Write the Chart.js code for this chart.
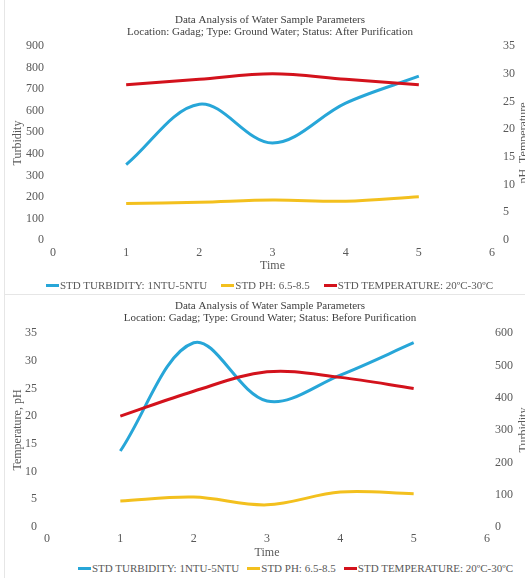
<!DOCTYPE html>
<html>
<head>
<meta charset="utf-8">
<script src="https://cdn.jsdelivr.net/npm/chart.js@4.4.1/dist/chart.umd.min.js"></script>
<style>
  html, body { margin: 0; padding: 0; background: #fff; width: 525px; height: 578px; overflow: hidden; }
  body { position: relative; font-family: "Liberation Serif", "Times New Roman", serif; }
  .frame { position: absolute; left: 4px; width: 540px; border-left: 1px solid #e6e6e6; }
  #frameTop { top: 0; height: 294px; border-bottom: 1px solid #e6e6e6; }
  #frameBottom { top: 295px; height: 300px; }
  canvas { position: absolute; left: 0; }
  #chartAfter { top: 0; }
  #chartBefore { top: 290px; }
  .legend { position: absolute; display: flex; align-items: center; font-size: 11px; line-height: 13px; color: #595959; white-space: nowrap; }
  .legend .item { display: inline-flex; align-items: center; }
  .legend .swatch { display: inline-block; width: 13px; height: 3px; margin-right: 1px; }
  #legendAfter { left: 46px; top: 279px; gap: 14px; }
  #legendBefore { left: 78px; top: 562px; gap: 8px; }
</style>
</head>
<body>
<div class="frame" id="frameTop"></div>
<div class="frame" id="frameBottom"></div>
<canvas id="chartAfter" width="540" height="273"></canvas>
<canvas id="chartBefore" width="540" height="270"></canvas>
<div class="legend" id="legendAfter"></div>
<div class="legend" id="legendBefore"></div>
<script>
// Sampling times
const timePoints = [1, 2, 3, 4, 5];
const timeTicks = [0, 1, 2, 3, 4, 5, 6];

// After purification
const afterTurbidity = [350, 630, 450, 635, 760];
const afterPh = [6.6, 6.8, 7.2, 7.0, 7.8];
const afterTemperature = [28, 29, 30, 29, 28];

// Before purification
const beforeTurbidity = [235, 570, 390, 470, 570];
const beforePh = [4.7, 5.4, 4.0, 6.3, 6.0];
const beforeTemperature = [20, 24.5, 28, 27, 25];

const seriesLabels = ['STD TURBIDITY: 1NTU-5NTU', 'STD PH: 6.5-8.5', 'STD TEMPERATURE: 20ºC-30ºC'];
const seriesColors = ['#27a6d8', '#f3c01e', '#d3121c'];

const titleAfter = ['Data Analysis of Water Sample Parameters', 'Location: Gadag; Type: Ground Water; Status: After Purification'];
const titleBefore = ['Data Analysis of Water Sample Parameters', 'Location: Gadag; Type: Ground Water; Status: Before Purification'];

const FONT = '"Liberation Serif", "Times New Roman", serif';
const TEXT = '#595959';

function points(values) {
  return values.map((v, i) => ({ x: timePoints[i], y: v }));
}

function lineSet(label, color, values, axis, order) {
  return {
    label, data: points(values), yAxisID: axis, order,
    borderColor: color, backgroundColor: color,
    borderWidth: 3, pointRadius: 0, tension: 0.35, fill: false
  };
}

// Rotated title on the far right, reading bottom to top
const sideTitle = {
  id: 'sideTitle',
  afterDraw(chart, args, opts) {
    if (!opts || !opts.text) return;
    const { ctx, chartArea } = chart;
    ctx.save();
    ctx.translate(opts.x, (chartArea.top + chartArea.bottom) / 2);
    ctx.rotate(-Math.PI / 2);
    ctx.font = '12px ' + FONT;
    ctx.fillStyle = TEXT;
    ctx.textAlign = 'center';
    ctx.textBaseline = 'middle';
    ctx.fillText(opts.text, 0, 0);
    ctx.restore();
  }
};

function fixWidth(w) { return scale => { scale.width = w; }; }
function fixHeight(h) { return scale => { scale.height = h; }; }

function yScale(position, min, max, step, width, pad, title) {
  return {
    type: 'linear', position, min, max,
    grid: { display: false, drawTicks: false },
    border: { display: false },
    ticks: { stepSize: step, padding: pad, color: TEXT, font: { family: FONT, size: 12 } },
    title: title ? { display: true, text: title, color: TEXT, font: { family: FONT, size: 12, lineHeight: 1.2 }, padding: { top: 10.8, bottom: 0 } } : { display: false },
    afterFit: fixWidth(width)
  };
}

function xScale(tickPad, height) {
  return {
    type: 'linear', min: 0, max: 6,
    afterBuildTicks: scale => { scale.ticks = timeTicks.map(v => ({ value: v })); },
    grid: { display: false, drawTicks: false },
    border: { display: false },
    ticks: { padding: tickPad, color: TEXT, font: { family: FONT, size: 12 } },
    title: { display: true, text: 'Time', color: TEXT, font: { family: FONT, size: 12, lineHeight: 1.2 }, padding: { top: 0, bottom: 0 } },
    afterFit: fixHeight(height)
  };
}

function buildLegend(id, chart) {
  const box = document.getElementById(id);
  chart.data.datasets.slice().sort((a, b) => seriesLabels.indexOf(a.label) - seriesLabels.indexOf(b.label)).forEach(ds => {
    const item = document.createElement('span');
    item.className = 'item';
    const sw = document.createElement('span');
    sw.className = 'swatch';
    sw.style.background = ds.borderColor;
    const tx = document.createElement('span');
    tx.textContent = ds.label;
    item.appendChild(sw);
    item.appendChild(tx);
    box.appendChild(item);
  });
}

// After purification: turbidity on the left axis, pH and temperature on the right
const chartAfter = new Chart(document.getElementById('chartAfter'), {
  type: 'line',
  data: {
    datasets: [
      lineSet(seriesLabels[0], seriesColors[0], afterTurbidity, 'y', 2),
      lineSet(seriesLabels[1], seriesColors[1], afterPh, 'y1', 1),
      lineSet(seriesLabels[2], seriesColors[2], afterTemperature, 'y1', 0)
    ]
  },
  options: {
    responsive: false, animation: false, devicePixelRatio: 1,
    layout: { padding: { left: 0, right: 0, top: 0, bottom: 0 } },
    plugins: {
      legend: { display: false },
      tooltip: { enabled: false },
      title: { display: true, text: titleAfter, color: '#404040', font: { family: FONT, size: 11, weight: 'normal', lineHeight: 1.12 }, padding: { top: 13.85, bottom: 7.55 } },
      sideTitle: { text: 'pH, Temperature', x: 524 }
    },
    scales: {
      x: xScale(6, 33),
      y: yScale('left', 0, 900, 100, 53, 9, 'Turbidity'),
      y1: yScale('right', 0, 35, 5, 48, 11, null)
    }
  },
  plugins: [sideTitle]
});

// Before purification: temperature and pH on the left axis, turbidity on the right
const chartBefore = new Chart(document.getElementById('chartBefore'), {
  type: 'line',
  data: {
    datasets: [
      lineSet(seriesLabels[0], seriesColors[0], beforeTurbidity, 'y1', 2),
      lineSet(seriesLabels[1], seriesColors[1], beforePh, 'y', 1),
      lineSet(seriesLabels[2], seriesColors[2], beforeTemperature, 'y', 0)
    ]
  },
  options: {
    responsive: false, animation: false, devicePixelRatio: 1,
    layout: { padding: { left: 0, right: 0, top: 0, bottom: 0 } },
    plugins: {
      legend: { display: false },
      tooltip: { enabled: false },
      title: { display: true, text: titleBefore, color: '#404040', font: { family: FONT, size: 11, weight: 'normal', lineHeight: 1.12 }, padding: { top: 9.85, bottom: 8.55 } },
      sideTitle: { text: 'Turbidity', x: 524 }
    },
    scales: {
      x: xScale(5, 33),
      y: yScale('left', 0, 35, 5, 47, 10, 'Temperature, pH'),
      y1: yScale('right', 0, 600, 100, 53, 8, null)
    }
  },
  plugins: [sideTitle]
});

buildLegend('legendAfter', chartAfter);
buildLegend('legendBefore', chartBefore);
</script>
</body>
</html>
